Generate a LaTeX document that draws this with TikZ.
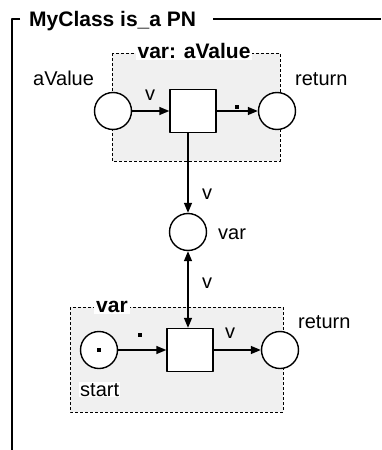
\documentclass[tikz,border=0pt]{standalone}
\usepackage{fontspec}
\setmainfont{Liberation Sans}
\usetikzlibrary{arrows.meta}

\begin{document}
\begin{tikzpicture}[x=1pt,y=-1pt,>={Triangle[length=10pt,width=8pt]},line join=round,
  font=\fontsize{20}{24}\selectfont,
  place/.style={circle,draw,line width=1.4pt,fill=white,minimum size=37pt,inner sep=0pt},
  trans/.style={rectangle,draw,line width=1.4pt,fill=white,minimum width=46pt,minimum height=43pt,inner sep=0pt},
  region/.style={draw,dash pattern=on 3pt off 2pt,line width=1pt,fill=black!6},
  boxtitle/.style={fill=white,font=\fontsize{21}{24}\selectfont\bfseries,inner sep=2pt,anchor=base},
  lbl/.style={inner sep=0pt,anchor=base west},
  token/.style={fill=black,inner sep=0pt,minimum size=4.5pt},
  arc/.style={->,line width=1.4pt}]

  \useasboundingbox (0,0) rectangle (381,450);

  % class frame
  \node[anchor=base west,inner sep=0pt,font=\fontsize{21}{24}\selectfont\bfseries] (title) at (29,26) {MyClass is\_a PN};
  \draw[line width=2pt] (20,19) -- (12,19) -- (12,450);
  \draw[line width=2pt] (213,19) -- (381,19);

  % upper region
  \path[region] (112,53) rectangle (280,161);
  \node[boxtitle] (utitle) at (194,58) {var: aValue};
  \node[place] (aval) at (113,111) {};
  \node[trans] (t1) at (193,111) {};
  \node[place] (ret1) at (277,111) {};
  \node[lbl] (avallbl) at (33,85) {aValue};
  \node[lbl] (ret1lbl) at (295,85) {return};

  % shared place
  \node[place] (var) at (188,232) {};
  \node[lbl] (varlbl) at (218,239) {var};

  % lower region
  \path[region] (70,307) rectangle (283,412);
  \node[boxtitle] (ltitle) at (112,312) {var};
  \node[place] (start) at (99,350) {};
  \node[token] (tok) at (start) {};
  \node[trans] (t2) at (190,350) {};
  \node[place] (ret2) at (280,350) {};
  \node[lbl,fill=white,inner sep=1pt] (startlbl) at (79,396) {start};
  \node[lbl] (ret2lbl) at (298,328) {return};

  % arcs
  \draw[arc] (aval) -- (t1);
  \draw[arc] (t1) -- (ret1);
  \draw[arc] (t1.south -| var) -- (var);
  \draw[arc,<->] (var) -- (t2.north -| var);
  \draw[arc] (start) -- (t2);
  \draw[arc] (t2) -- (ret2);

  % arc inscriptions
  \node[lbl] (a1) at (145,100) {v};
  \node[token] (a2) at (237,107) {};
  \node[lbl] (a3) at (202,199) {v};
  \node[lbl] (a4) at (202,288) {v};
  \node[token] (a5) at (140,335) {};
  \node[lbl] (a6) at (225,338) {v};
\end{tikzpicture}
\end{document}
